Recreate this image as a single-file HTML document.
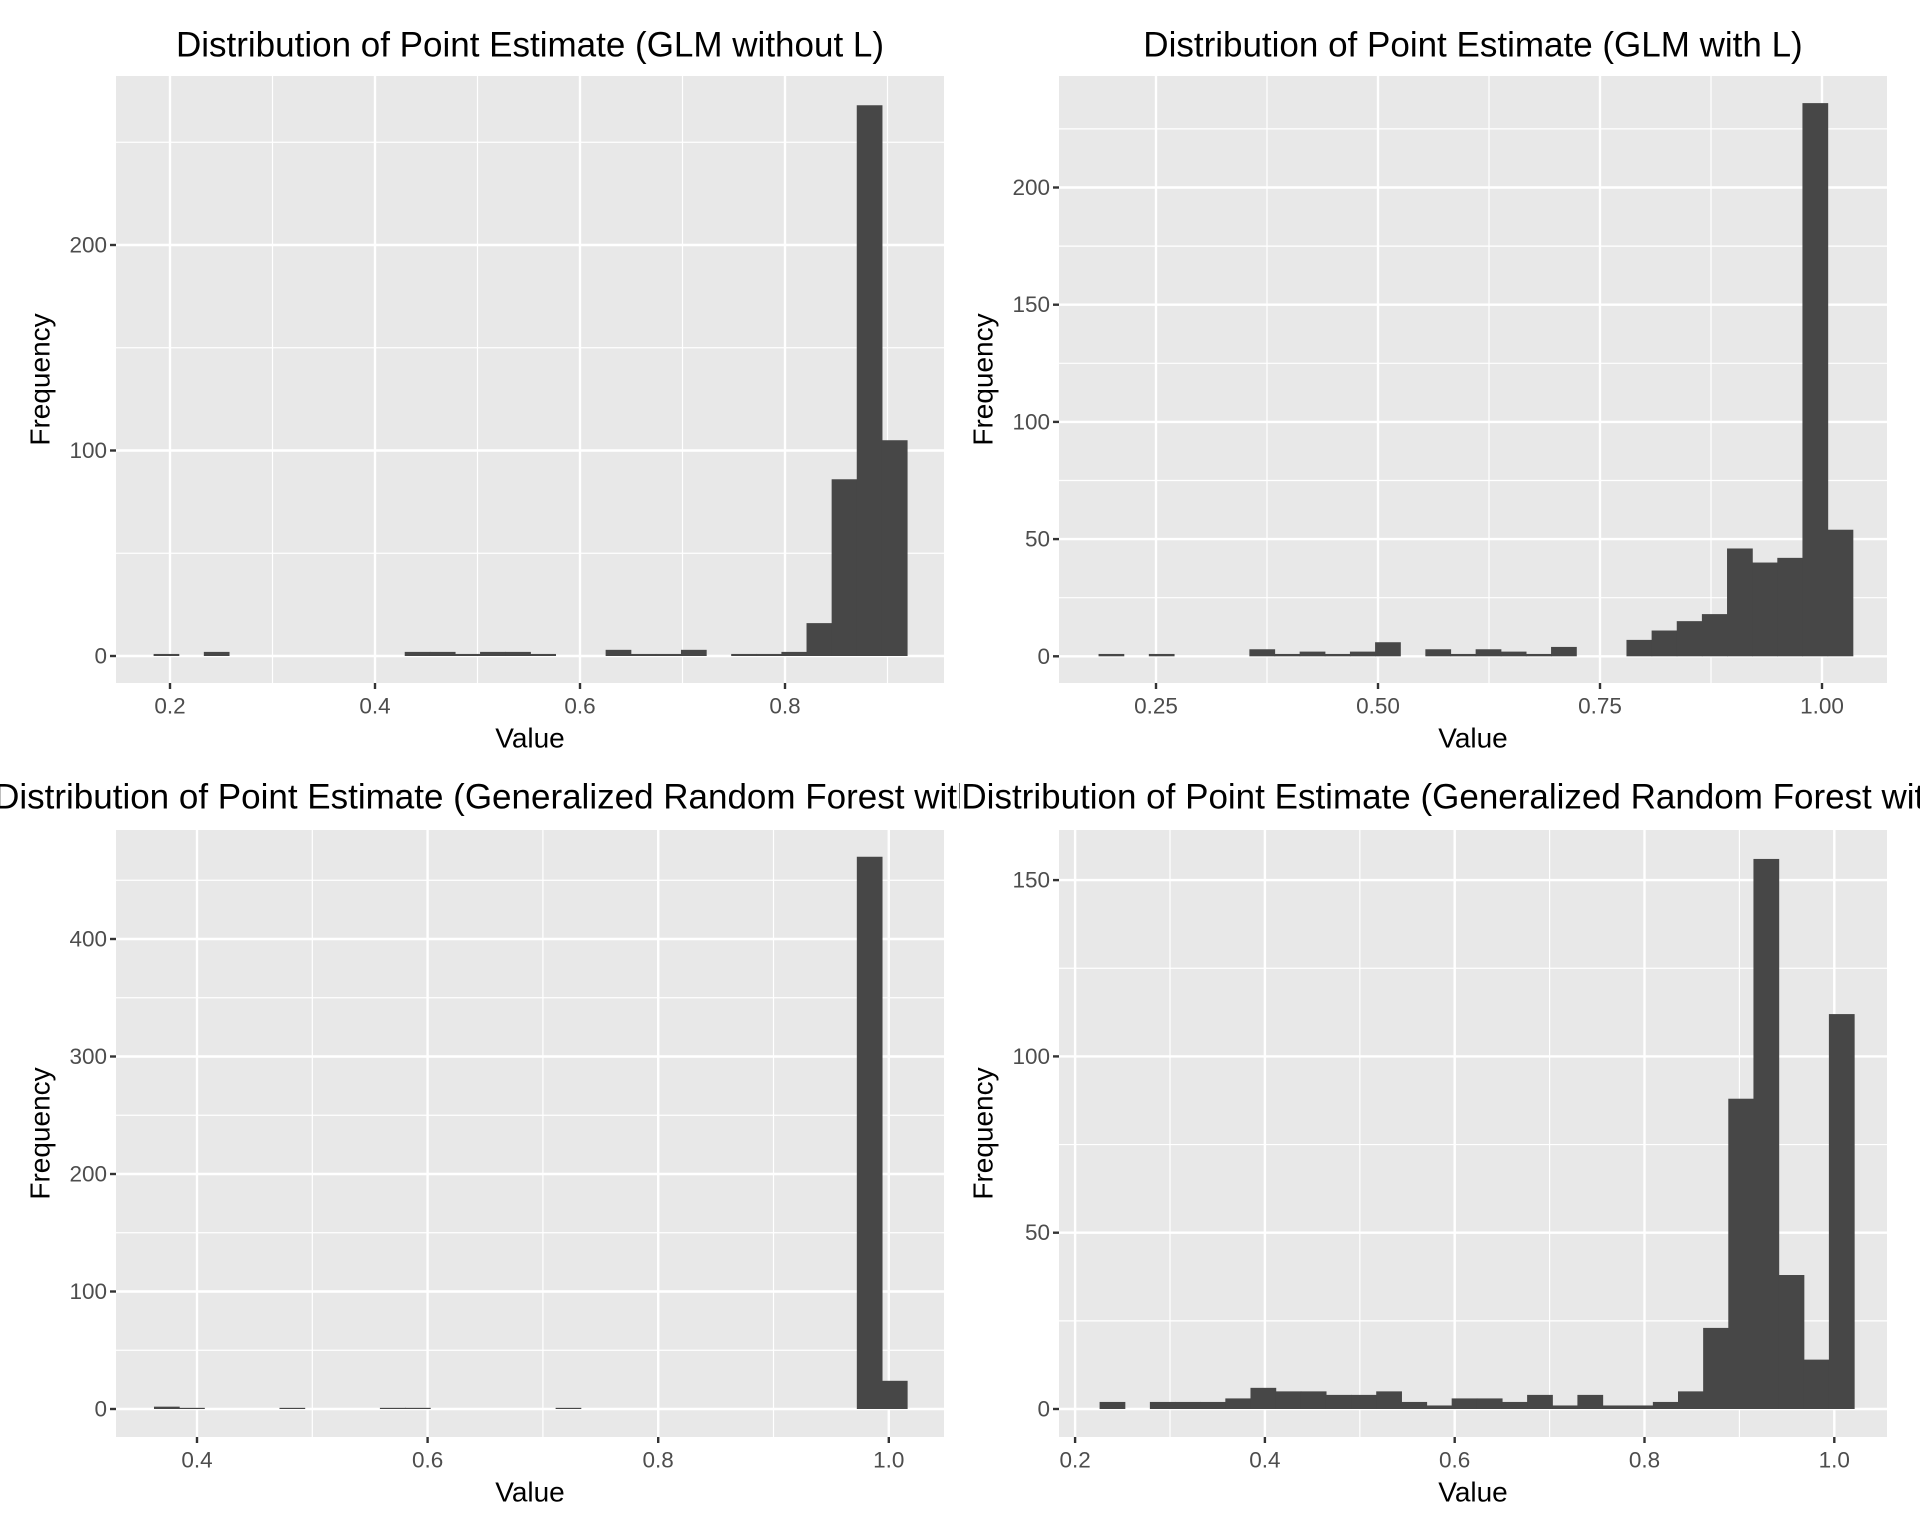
<!DOCTYPE html>
<html><head><meta charset="utf-8"><title>Distribution of Point Estimate</title>
<style>
html,body{margin:0;padding:0;background:#fff;}
svg{display:block;font-family:"Liberation Sans",Arial,sans-serif;}
</style></head>
<body>
<svg id="chart" width="1920" height="1536" viewBox="0 0 1920 1536" xmlns="http://www.w3.org/2000/svg">
<defs>
<clipPath id="clipL"><rect x="0" y="0" width="960" height="1536"/></clipPath>
<clipPath id="clipR"><rect x="960" y="0" width="960" height="1536"/></clipPath>
</defs>
</svg>
<script>
// ---- data arrays ----
const titles = [
  "Distribution of Point Estimate (GLM without L)",
  "Distribution of Point Estimate (GLM with L)",
  "Distribution of Point Estimate (Generalized Random Forest without L)",
  "Distribution of Point Estimate (Generalized Random Forest with L)"
];
const counts1 = [1,0,2,0,0,0,0,0,0,0,2,2,1,2,2,1,0,0,3,1,1,3,0,1,1,2,16,86,268,105];
const counts2 = [1,0,1,0,0,0,3,1,2,1,2,6,0,3,1,3,2,1,4,0,0,7,11,15,18,46,40,42,236,54];
const counts3 = [2,1,0,0,0,1,0,0,0,1,1,0,0,0,0,0,1,0,0,0,0,0,0,0,0,0,0,0,470,24];
const counts4 = [2,0,2,2,2,3,6,5,5,4,4,5,2,1,3,3,2,4,1,4,1,1,2,5,23,88,156,38,14,112];
const binStarts = [0.184, 0.1853, 0.3627, 0.2258];
const binWidths = [0.0245, 0.02831, 0.02177, 0.0265];
const xTicks1 = [0.2,0.4,0.6,0.8];
const xTickLabels1 = ["0.2","0.4","0.6","0.8"];
const xMinor1 = [0.3,0.5,0.7,0.9];
const xTicks2 = [0.25,0.5,0.75,1.0];
const xTickLabels2 = ["0.25","0.50","0.75","1.00"];
const xMinor2 = [0.375,0.625,0.875];
const xTicks3 = [0.4,0.6,0.8,1.0];
const xTickLabels3 = ["0.4","0.6","0.8","1.0"];
const xMinor3 = [0.5,0.7,0.9];
const xTicks4 = [0.2,0.4,0.6,0.8,1.0];
const xTickLabels4 = ["0.2","0.4","0.6","0.8","1.0"];
const xMinor4 = [0.3,0.5,0.7,0.9];
const yTicks1 = [0,100,200];
const yMinor1 = [50,150,250];
const yTicks2 = [0,50,100,150,200];
const yMinor2 = [25,75,125,175,225];
const yTicks3 = [0,100,200,300,400];
const yMinor3 = [50,150,250,350,450];
const yTicks4 = [0,50,100,150];
const yMinor4 = [25,75,125];

// ---- layout (pixels) ----
const layouts = [
  {L:116,R:944,T:76,B:683,x0:170,xv0:0.2,xs:1025,y0:656,ys:2.055,clip:"clipL",titleY:45},
  {L:1059,R:1887,T:76,B:683,x0:1156,xv0:0.25,xs:888,y0:656.3,ys:2.344,clip:"clipR",titleY:45},
  {L:116,R:944,T:830,B:1437,x0:197,xv0:0.4,xs:1153,y0:1409,ys:1.175,clip:"clipL",titleY:797},
  {L:1059,R:1887,T:830,B:1437,x0:1075.1,xv0:0.2,xs:949,y0:1409,ys:3.526,clip:"clipR",titleY:797}
];
const allCounts=[counts1,counts2,counts3,counts4];
const allXT=[xTicks1,xTicks2,xTicks3,xTicks4];
const allXL=[xTickLabels1,xTickLabels2,xTickLabels3,xTickLabels4];
const allXM=[xMinor1,xMinor2,xMinor3,xMinor4];
const allYT=[yTicks1,yTicks2,yTicks3,yTicks4];
const allYM=[yMinor1,yMinor2,yMinor3,yMinor4];

const NS="http://www.w3.org/2000/svg";
const svg=document.getElementById("chart");
function mk(tag,attrs,parent){const e=document.createElementNS(NS,tag);for(const k in attrs)e.setAttribute(k,attrs[k]);(parent||svg).appendChild(e);return e;}

layouts.forEach((p,i)=>{
  const xS=v=>p.x0+(v-p.xv0)*p.xs;
  const yS=c=>p.y0-c*p.ys;
  const g=mk("g",{});
  
  
  const bg=mk("rect",{x:p.L,y:p.T,width:p.R-p.L,height:p.B-p.T,fill:"#e8e8e8"},g);
  
  
  allYM[i].forEach(v=>{const y=yS(v);if(y>p.T&&y<p.B){const l=mk("line",{x1:p.L,x2:p.R,y1:y,y2:y,stroke:"#fff","stroke-width":1.2},g);
    
    }});
  allXM[i].forEach(v=>{const x=xS(v);if(x>p.L&&x<p.R){const l=mk("line",{x1:x,x2:x,y1:p.T,y2:p.B,stroke:"#fff","stroke-width":1.2},g);
    
    }});
  allYT[i].forEach(v=>{const y=yS(v);
    const l=mk("line",{x1:p.L,x2:p.R,y1:y,y2:y,stroke:"#fff","stroke-width":2.4},g);
    
    
    const t=mk("line",{x1:p.L-6,x2:p.L,y1:y,y2:y,stroke:"#333","stroke-width":2.4},g);
    
    
    const tx=mk("text",{x:p.L-9,y:y,"text-anchor":"end","dominant-baseline":"central","font-size":22.5,fill:"#4d4d4d"},g);
    tx.textContent=String(v);
    
    
  });
  allXT[i].forEach((v,j)=>{const x=xS(v);
    const l=mk("line",{x1:x,x2:x,y1:p.T,y2:p.B,stroke:"#fff","stroke-width":2.4},g);
    
    
    const t=mk("line",{x1:x,x2:x,y1:p.B,y2:p.B+6,stroke:"#333","stroke-width":2.4},g);
    
    
    const tx=mk("text",{x:x,y:p.B+23,"text-anchor":"middle","dominant-baseline":"central","font-size":22.5,fill:"#4d4d4d"},g);
    tx.textContent=allXL[i][j];
    
    
  });
  const cs=allCounts[i];
  cs.forEach((c,k)=>{
    if(c<=0)return;
    const a=binStarts[i]+k*binWidths[i], b=a+binWidths[i];
    const x1=xS(a),x2=xS(b);
    const r=mk("rect",{x:x1,y:yS(c),width:x2-x1+0.6,height:yS(0)-yS(c),fill:"#474747"},g);
    
    
  });
  const xt=mk("text",{x:(p.L+p.R)/2,y:p.B+55,"text-anchor":"middle","dominant-baseline":"central","font-size":28,fill:"#000"},g);
  xt.textContent="Value";
  
  
  const yx=p.L-76, yy=(p.T+p.B)/2;
  const yt=mk("text",{x:yx,y:yy,"text-anchor":"middle","dominant-baseline":"central","font-size":28,fill:"#000",transform:"rotate(-90 "+yx+" "+yy+")"},g);
  yt.textContent="Frequency";
  
  
  const tt=mk("text",{x:(p.L+p.R)/2,y:p.titleY,"text-anchor":"middle","dominant-baseline":"central","font-size":35,fill:"#000","clip-path":"url(#"+p.clip+")"},g);
  tt.textContent=titles[i];
  
  
});
</script>
</body></html>
